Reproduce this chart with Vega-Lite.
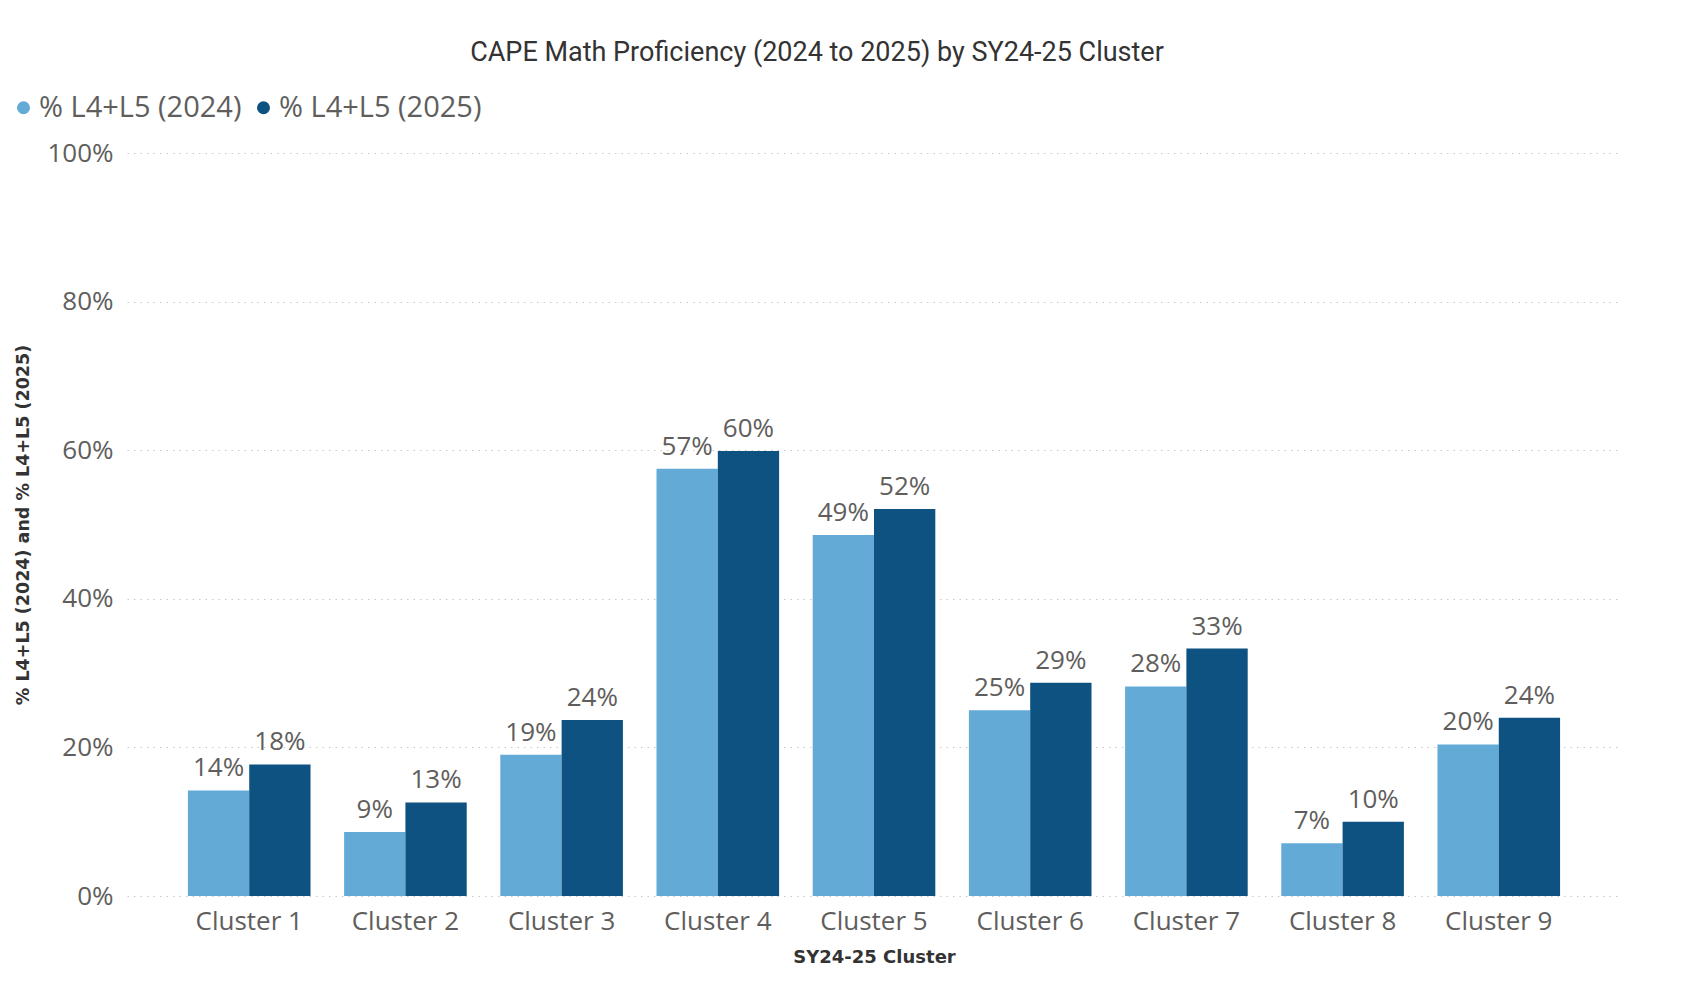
{
  "$schema": "https://vega.github.io/schema/vega-lite/v6.json",
  "width": 1494,
  "height": 743,
  "autosize": "none",
  "padding": {"left": 127, "top": 153, "right": 65, "bottom": 104},
  "background": "white",
  "title": {
    "text": "CAPE Math Proficiency (2024 to 2025) by SY24-25 Cluster",
    "anchor": "middle",
    "frame": "group",
    "dx": -57,
    "offset": 26,
    "font": "Roboto",
    "fontSize": 27,
    "fontWeight": "normal",
    "color": "#333333"
  },
  "data": {
    "values": [
      {"cluster": "Cluster 1", "series": "% L4+L5 (2024)", "value": 0.142},
      {"cluster": "Cluster 1", "series": "% L4+L5 (2025)", "value": 0.177},
      {"cluster": "Cluster 2", "series": "% L4+L5 (2024)", "value": 0.086},
      {"cluster": "Cluster 2", "series": "% L4+L5 (2025)", "value": 0.126},
      {"cluster": "Cluster 3", "series": "% L4+L5 (2024)", "value": 0.19},
      {"cluster": "Cluster 3", "series": "% L4+L5 (2025)", "value": 0.237},
      {"cluster": "Cluster 4", "series": "% L4+L5 (2024)", "value": 0.575},
      {"cluster": "Cluster 4", "series": "% L4+L5 (2025)", "value": 0.599},
      {"cluster": "Cluster 5", "series": "% L4+L5 (2024)", "value": 0.486},
      {"cluster": "Cluster 5", "series": "% L4+L5 (2025)", "value": 0.521},
      {"cluster": "Cluster 6", "series": "% L4+L5 (2024)", "value": 0.25},
      {"cluster": "Cluster 6", "series": "% L4+L5 (2025)", "value": 0.287},
      {"cluster": "Cluster 7", "series": "% L4+L5 (2024)", "value": 0.282},
      {"cluster": "Cluster 7", "series": "% L4+L5 (2025)", "value": 0.333},
      {"cluster": "Cluster 8", "series": "% L4+L5 (2024)", "value": 0.071},
      {"cluster": "Cluster 8", "series": "% L4+L5 (2025)", "value": 0.1},
      {"cluster": "Cluster 9", "series": "% L4+L5 (2024)", "value": 0.204},
      {"cluster": "Cluster 9", "series": "% L4+L5 (2025)", "value": 0.24}
    ]
  },
  "encoding": {
    "x": {
      "field": "cluster",
      "type": "nominal",
      "scale": {"paddingInner": 0.215, "paddingOuter": 0.39},
      "axis": {
        "title": "SY24-25 Cluster",
        "labelAngle": 0,
        "labelFont": "Open Sans",
        "labelFontSize": 26,
        "labelColor": "#605e5c",
        "labelPadding": 12,
        "domain": false,
        "ticks": false,
        "titleFont": "DejaVu Sans",
        "titleFontSize": 18,
        "titleFontWeight": "bold",
        "titleColor": "#333333",
        "titlePadding": 14
      }
    },
    "xOffset": {"field": "series", "type": "nominal", "scale": {"paddingInner": 0, "paddingOuter": 0}},
    "y": {
      "field": "value",
      "type": "quantitative",
      "scale": {"domain": [0, 1]},
      "axis": {
        "title": "% L4+L5 (2024) and % L4+L5 (2025)",
        "format": ".0%",
        "values": [0, 0.2, 0.4, 0.6, 0.8, 1],
        "labelFont": "Open Sans",
        "labelFontSize": 26,
        "labelColor": "#605e5c",
        "labelPadding": 14,
        "domain": false,
        "ticks": false,
        "grid": true,
        "gridColor": "#c8c8c8",
        "gridDash": [1.5, 5],
        "gridWidth": 1.2,
        "titleFont": "DejaVu Sans",
        "titleFontSize": 17.5,
        "titleFontWeight": "bold",
        "titleColor": "#333333",
        "titlePadding": 14
      }
    },
    "color": {
      "field": "series",
      "type": "nominal",
      "scale": {"domain": ["% L4+L5 (2024)", "% L4+L5 (2025)"], "range": ["#63aad7", "#0d5280"]},
      "legend": {
        "title": null,
        "orient": "none",
        "legendX": -118,
        "legendY": -60,
        "padding": 0,
        "direction": "horizontal",
        "symbolType": "circle",
        "symbolSize": 170,
        "symbolStrokeWidth": 0,
        "labelFont": "Open Sans",
        "labelFontSize": 29,
        "labelColor": "#605e5c",
        "labelOffset": 1,
        "columnPadding": 7,
        "labelLimit": 400
      }
    }
  },
  "layer": [
    {"mark": {"type": "bar"}},
    {
      "mark": {"type": "text", "baseline": "alphabetic", "dy": -14, "font": "Open Sans", "fontSize": 26, "color": "#605e5c"},
      "encoding": {
        "text": {"field": "value", "type": "quantitative", "format": ".0%"},
        "color": {"value": "#605e5c"}
      }
    }
  ],
  "config": {"view": {"stroke": null}}
}
